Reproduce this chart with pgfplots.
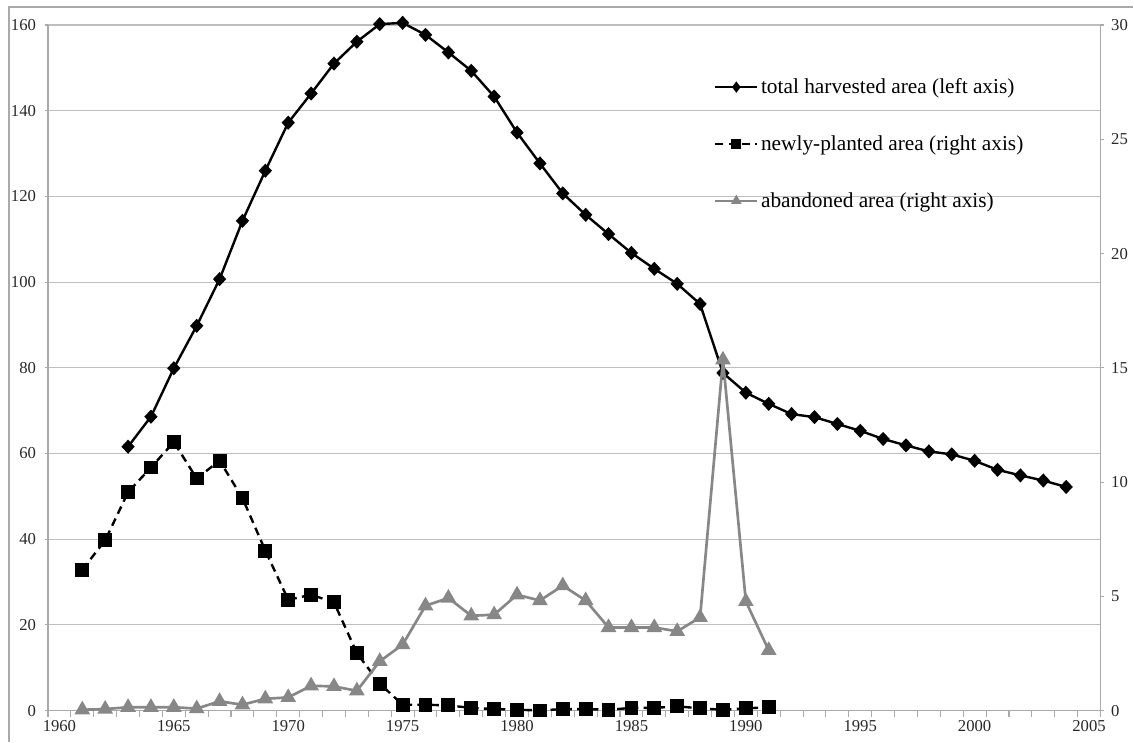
\documentclass[border=0pt]{standalone}
\usepackage{fontspec}
\setmainfont{Liberation Serif}
\usepackage{pgfplots}
\pgfplotsset{compat=1.18}
\definecolor{gridgray}{RGB}{190,190,190}
\definecolor{axgray}{RGB}{170,170,170}
\definecolor{sergray}{RGB}{135,135,135}
\definecolor{txt}{RGB}{40,40,40}
\pgfplotsset{
  common/.style={
    scale only axis, width=789.75pt, height=514.5pt,
    xmin=1959.5, xmax=2005.5, clip=false,
    /pgf/number format/assume math mode=true,
    /pgf/number format/1000 sep={},
    tick label style={font=\fontsize{12.5}{14}\selectfont, text=txt},
    axis line style={draw=axgray, line width=0.8pt, -},
    tick style={draw=axgray, line width=0.8pt},
    tick align=outside,
    major tick length=2.5pt,
  }
}
\begin{document}
\begin{tikzpicture}
\begin{axis}[common,
  ymin=0, ymax=160,
  axis y line*=left, axis x line*=bottom,
  xtick={1960,1965,...,2005},
  major x tick style={draw=none},
  minor xtick={1959.5,1960.5,...,2005.5},
  minor tick length=4.5pt,
  ytick={0,20,...,160},
  ymajorgrids, grid style={gridgray, line width=0.8pt},
  yticklabel style={xshift=-3pt},
  xticklabel style={yshift=-1pt},
]
\addplot[black, line width=1.8pt, mark=diamond*, mark size=4pt, mark options={solid, xscale=1.25}] coordinates {
(1963,61.6) (1964,68.6) (1965,79.9) (1966,89.8) (1967,100.7) (1968,114.3) (1969,126.0) (1970,137.2)
(1971,144.0) (1972,151.0) (1973,156.1) (1974,160.2) (1975,160.5) (1976,157.7) (1977,153.6) (1978,149.3)
(1979,143.3) (1980,134.9) (1981,127.7) (1982,120.7) (1983,115.7) (1984,111.2) (1985,106.8) (1986,103.1)
(1987,99.6) (1988,94.9) (1989,78.8) (1990,74.2) (1991,71.6) (1992,69.2) (1993,68.5) (1994,66.9)
(1995,65.3) (1996,63.4) (1997,61.9) (1998,60.5) (1999,59.8) (2000,58.3) (2001,56.2) (2002,54.9)
(2003,53.7) (2004,52.2)
};
\end{axis}
\begin{axis}[common,
  ymin=0, ymax=30,
  axis y line*=right, axis x line=none,
  ytick={0,5,...,30},
  yticklabel style={xshift=2pt},
  legend style={draw=none, fill=none, at={(0.629,0.93)}, anchor=north west,
    font=\fontsize{16}{19}\selectfont, row sep=26pt, text=black,
    legend cell align=left},
  legend image code/.code={\draw[#1, line width=1.8pt, mark repeat=2, mark phase=2, mark size=2.8pt] plot coordinates {(0cm,0cm) (0.55cm,0cm) (1.1cm,0cm)};},
]
\addlegendimage{black, mark=diamond*, mark options={solid}}
\addlegendentry{total harvested area (left axis)}
\addplot[black, line width=1.8pt, dash pattern=on 6pt off 4pt, mark=square*, mark size=4.3pt, mark options={solid}] coordinates {
(1961,6.17) (1962,7.45) (1963,9.56) (1964,10.64) (1965,11.75) (1966,10.16) (1967,10.94) (1968,9.30)
(1969,7.00) (1970,4.85) (1971,5.07) (1972,4.74) (1973,2.52) (1974,1.18) (1975,0.26) (1976,0.26)
(1977,0.23) (1978,0.12) (1979,0.07) (1980,0.04) (1981,0.01) (1982,0.07) (1983,0.07) (1984,0.04)
(1985,0.12) (1986,0.12) (1987,0.19) (1988,0.10) (1989,0.04) (1990,0.10) (1991,0.15)
};
\addlegendentry{newly-planted area (right axis)}
\addplot[sergray, line width=2pt, mark=triangle*, mark size=4.8pt, mark options={solid}] coordinates {
(1961,0.04) (1962,0.07) (1963,0.15) (1964,0.15) (1965,0.15) (1966,0.09) (1967,0.41) (1968,0.26)
(1969,0.52) (1970,0.58) (1971,1.09) (1972,1.06) (1973,0.87) (1974,2.16) (1975,2.89) (1976,4.59)
(1977,4.93) (1978,4.15) (1979,4.20) (1980,5.07) (1981,4.82) (1982,5.47) (1983,4.82) (1984,3.64)
(1985,3.64) (1986,3.64) (1987,3.47) (1988,4.08) (1989,15.35) (1990,4.78) (1991,2.64)
};
\addlegendentry{abandoned area (right axis)}
\end{axis}
\draw[axgray, line width=0.8pt] (-29.25pt,-23.25pt) -- (-29.25pt,528pt) -- (814.5pt,528pt);
\path[use as bounding box] (-36pt,-23.25pt) rectangle (814.5pt,533.25pt);
\end{tikzpicture}
\end{document}
